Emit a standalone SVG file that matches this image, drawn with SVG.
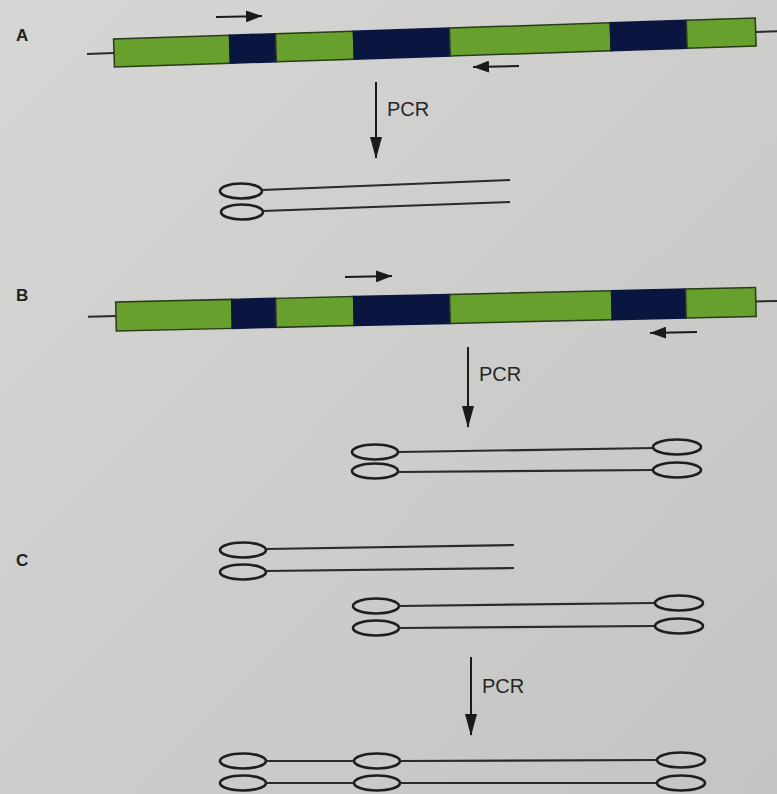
<svg xmlns="http://www.w3.org/2000/svg" width="777" height="794" viewBox="0 0 777 794">
<defs>
<marker id="pcrHead" markerUnits="userSpaceOnUse" markerWidth="22" markerHeight="12" refX="21" refY="6" orient="auto" viewBox="0 0 22 12">
<path d="M0,0 L22,6 L0,12 z" fill="#1a1a1a"/>
</marker>
<marker id="primerHead" markerUnits="userSpaceOnUse" markerWidth="16" markerHeight="12" refX="16" refY="6" orient="auto" viewBox="0 0 16 12">
<path d="M0,0 L16,6 L0,12 z" fill="#1a1a1a"/>
</marker>
<linearGradient id="bg" x1="0" y1="0" x2="1" y2="1">
<stop offset="0" stop-color="#d6d6d4"/>
<stop offset="1" stop-color="#c4c4c2"/>
</linearGradient>
</defs>
<style>
.g{fill:#68a02e;stroke:#2a3a1a;stroke-width:1.5}
.b{fill:#0b1640;stroke:#0b1640;stroke-width:1.5}
.tail{stroke:#2a2a2a;stroke-width:2}
.strand{stroke:#2a2a2a;stroke-width:2.2;fill:none}
.loop{fill:none;stroke:#1e1e1e;stroke-width:2.6}
.conn{stroke:#1a1a1a;stroke-width:2;fill:none}
.lbl{font-family:"Liberation Sans","DejaVu Sans",sans-serif;font-weight:bold;font-size:17px;fill:#222}
.pcr{font-family:"Liberation Sans","DejaVu Sans",sans-serif;font-size:20px;fill:#262626}
</style>
<rect x="0" y="0" width="777" height="794" fill="url(#bg)"/>

<g id="label-A"><text class="lbl" x="16" y="41">A</text></g>
<g id="label-B"><text class="lbl" x="16" y="301">B</text></g>
<g id="label-C"><text class="lbl" x="16" y="566">C</text></g>

<g id="gene-A" transform="rotate(-1.87 114 53)">
<line class="tail" x1="87" y1="53" x2="114" y2="53"/>
<line class="tail" x1="756" y1="53" x2="780" y2="53"/>
<rect class="g" x="114" y="39" width="116" height="28"/>
<rect class="b" x="230" y="39" width="46" height="28"/>
<rect class="g" x="276" y="39" width="78" height="28"/>
<rect class="b" x="354" y="39" width="96" height="28"/>
<rect class="g" x="450" y="39" width="161" height="28"/>
<rect class="b" x="611" y="39" width="76" height="28"/>
<rect class="g" x="687" y="39" width="69" height="28"/>
</g>

<g id="gene-B" transform="rotate(-1.3 116 316)">
<line class="tail" x1="88" y1="316" x2="116" y2="316"/>
<line class="tail" x1="756" y1="316" x2="780" y2="316"/>
<rect class="g" x="116" y="302" width="116" height="29"/>
<rect class="b" x="232" y="302" width="44" height="29"/>
<rect class="g" x="276" y="302" width="78" height="29"/>
<rect class="b" x="354" y="302" width="96" height="29"/>
<rect class="g" x="450" y="302" width="162" height="29"/>
<rect class="b" x="612" y="302" width="74" height="29"/>
<rect class="g" x="686" y="302" width="70" height="29"/>
</g>

<g id="product-A">
<ellipse class="loop" cx="241" cy="191" rx="21" ry="7.5"/>
<line class="strand" x1="262" y1="190" x2="510" y2="180"/>
<ellipse class="loop" cx="242" cy="212" rx="21" ry="7.5"/>
<line class="strand" x1="263" y1="211" x2="510" y2="202"/>
</g>

<g id="product-B">
<ellipse class="loop" cx="375" cy="452" rx="23" ry="7.5"/>
<line class="strand" x1="398" y1="452" x2="654" y2="448"/>
<ellipse class="loop" cx="677" cy="447" rx="24" ry="7.5"/>
<ellipse class="loop" cx="375" cy="471" rx="23" ry="7.5"/>
<line class="strand" x1="398" y1="472" x2="654" y2="470"/>
<ellipse class="loop" cx="677" cy="470" rx="24" ry="7.5"/>
</g>

<g id="input-C1">
<ellipse class="loop" cx="243" cy="550" rx="23" ry="7.5"/>
<line class="strand" x1="266" y1="549" x2="514" y2="545"/>
<ellipse class="loop" cx="243" cy="572" rx="23" ry="7.5"/>
<line class="strand" x1="266" y1="571" x2="514" y2="568"/>
</g>

<g id="input-C2">
<ellipse class="loop" cx="376" cy="606" rx="23" ry="7.5"/>
<line class="strand" x1="399" y1="606" x2="655" y2="603"/>
<ellipse class="loop" cx="679" cy="603" rx="24" ry="7.5"/>
<ellipse class="loop" cx="376" cy="628" rx="23" ry="7.5"/>
<line class="strand" x1="399" y1="628" x2="655" y2="626"/>
<ellipse class="loop" cx="679" cy="626" rx="24" ry="7.5"/>
</g>

<g id="product-C">
<ellipse class="loop" cx="243" cy="761" rx="23" ry="7.5"/>
<line class="strand" x1="266" y1="761" x2="354" y2="761"/>
<ellipse class="loop" cx="377" cy="761" rx="23" ry="7.5"/>
<line class="strand" x1="400" y1="761" x2="657" y2="760"/>
<ellipse class="loop" cx="681" cy="760" rx="24" ry="7.5"/>
<ellipse class="loop" cx="243" cy="783" rx="23" ry="7.5"/>
<line class="strand" x1="266" y1="783" x2="354" y2="783"/>
<ellipse class="loop" cx="377" cy="783" rx="23" ry="7.5"/>
<line class="strand" x1="400" y1="783" x2="657" y2="783"/>
<ellipse class="loop" cx="681" cy="783" rx="24" ry="7.5"/>
</g>

<g id="connectors">
<line class="conn" x1="216" y1="17" x2="262" y2="16" marker-end="url(#primerHead)"/>
<line class="conn" x1="519" y1="66" x2="473" y2="67" marker-end="url(#primerHead)"/>
<line class="conn" x1="345" y1="277" x2="392" y2="276" marker-end="url(#primerHead)"/>
<line class="conn" x1="697" y1="332" x2="650" y2="333" marker-end="url(#primerHead)"/>
<line class="conn" x1="376" y1="82" x2="376" y2="158" marker-end="url(#pcrHead)"/>
<line class="conn" x1="468" y1="347" x2="468" y2="427" marker-end="url(#pcrHead)"/>
<line class="conn" x1="471" y1="657" x2="471" y2="735" marker-end="url(#pcrHead)"/>
</g>

<g id="pcr-labels">
<text class="pcr" x="387" y="116">PCR</text>
<text class="pcr" x="479" y="381">PCR</text>
<text class="pcr" x="482" y="693">PCR</text>
</g>
</svg>
